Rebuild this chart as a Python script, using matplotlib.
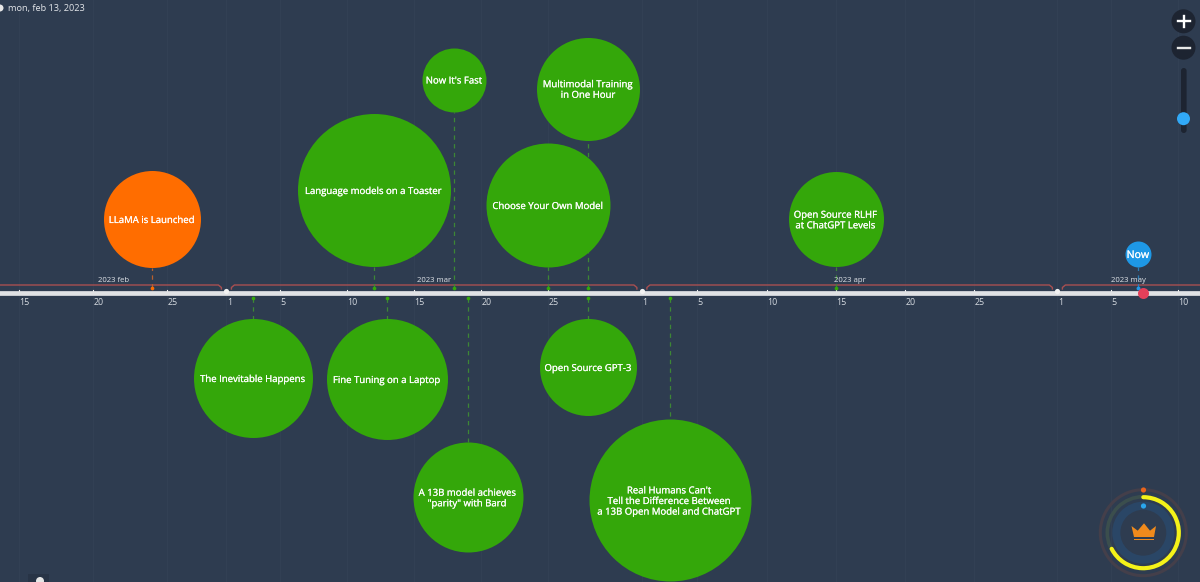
import pandas as pd
import numpy as np
import matplotlib
matplotlib.use('Agg')
import matplotlib.pyplot as plt
import matplotlib.patheffects as pe
from matplotlib.patches import Arc, Circle, Polygon, Rectangle, FancyBboxPatch

plt.rcParams['font.family'] = ['Open Sans', 'DejaVu Sans']

# events
labels = ['LLaMA is Launched', 'The Inevitable Happens', 'Language models on a Toaster',
          'Fine Tuning on a Laptop', "Now It's Fast", 'A 13B model achieves\n"parity" with Bard',
          'Choose Your Own Model', 'Multimodal Training\nin One Hour', 'Open Source GPT-3',
          "Real Humans Can't\nTell the Difference Between\na 13B Open Model and ChatGPT",
          'Open Source RLHF\nat ChatGPT Levels']
dates = ['2023-02-24', '2023-03-03', '2023-03-12', '2023-03-13', '2023-03-18', '2023-03-19',
         '2023-03-25', '2023-03-28', '2023-03-28', '2023-04-03', '2023-04-15']
# height of the bubble centre above (+) or below (-) the timeline, and bubble radius
heights = [74, -85, 103, -86, 213.5, -204, 88, 204.5, -74, -207, 74]
radii = [48.5, 59.5, 76.5, 60.5, 32, 55, 62, 51.5, 48.5, 81, 47.5]
kinds = ['orange', 'green', 'green', 'green', 'green', 'green', 'green', 'green', 'green', 'green', 'green']

months = ['2023-02-01', '2023-03-01', '2023-04-01', '2023-05-01']
month_labels = ['2023 feb', '2023 mar', '2023 apr', '2023 may']
tick_days = [1, 5, 10, 15, 20, 25]
now_date = '2023-05-07'
today_date = '2023-05-07 09:00'

colors = {'orange': '#ff6d00', 'green': '#34a70a'}
line_colors = {'orange': '#b8602e', 'green': '#3d8735'}
bg = '#2e3c50'
dpi = 100
W, H = 1200, 582
axis_y = 293
month_px = 415.5
mar_px = 226.4


def pos(date):
    # every month gets the same width on this timeline
    d = pd.Timestamp(date)
    frac = (d.day - 1 + d.hour / 24) / d.days_in_month
    return (d.year - 2023) * 12 + d.month - 3 + frac


def size(r):
    return (2 * r * 72 / dpi) ** 2


bold = [pe.withStroke(linewidth=0.12, foreground='white')]

fig = plt.figure(figsize=(W / dpi, H / dpi), dpi=dpi, facecolor=bg)
ax = fig.add_axes([0, 0, 1, 1])
ax.set_facecolor(bg)
ax.set_xlim(-mar_px / month_px, (W - mar_px) / month_px)
ax.set_ylim(axis_y - H, axis_y)
ax.axis('off')
xmin, xmax = ax.get_xlim()

# faint grid + ticks, only what is on screen
for m in months:
    start = pd.Timestamp(m)
    for dy in tick_days:
        x = pos(start + pd.Timedelta(days=dy - 1))
        if x < xmin or x > xmax - 0.02:
            continue
        ax.plot([x, x], [axis_y - H, axis_y], color='#ffffff', alpha=0.022, lw=1, zorder=1)
        ax.plot([x, x], [0, 3], color='#f2f2f2', lw=0.8, zorder=3)
        ax.annotate(str(dy), (x, -9.5), xytext=(0.3, 0), textcoords='offset points', color='#d5dae0',
                    fontsize=6.4, ha='left', va='center', zorder=5)

# the timeline itself
ax.plot([-1, 3], [0, 0], color='#e0e2e5', lw=3.4, solid_capstyle='butt', zorder=3)
for m in months[1:]:
    ax.scatter(pos(m), 2, s=14, color='#f2f2f2', linewidths=0, zorder=4)

# month brackets, label sits in the middle of the part on screen
for m, lab in zip(months, month_labels):
    x0 = pos(m)
    x1 = x0 + 1
    gap = 5 / month_px
    c = 3 / month_px
    ax.plot([x0 + gap, x0 + gap, x0 + gap + c, x1 - gap - c, x1 - gap, x1 - gap],
            [4, 5.5, 8, 8, 5.5, 4], color='#a84f50', lw=1, zorder=2)
    mid = (max(x0, xmin) + min(x1, xmax)) / 2
    ax.text(mid, 12, lab, color='#dfe3e8', fontsize=5.6, ha='center', va='center', zorder=5)

# bubbles
for lab, dt, h, r, k in zip(labels, dates, heights, radii, kinds):
    x = pos(dt)
    sgn = np.sign(h)
    ax.plot([x, x], [sgn * 5, h - sgn * r], color=line_colors[k], lw=0.9, ls=(0, (3.5, 3.5)), zorder=2)
    ax.scatter(x, sgn * 5, s=7, color=colors[k], linewidths=0, zorder=4)
    ax.scatter(x, h, s=size(r), color=colors[k], linewidths=0, zorder=3)
    ax.text(x, h - 1.5, lab, color='white', fontsize=6.9, ha='center', va='center', linespacing=0.95,
            zorder=6, path_effects=bold)

# now marker
nx = pos(now_date)
ax.plot([nx, nx], [5, 26], color='#2b7fb8', lw=0.9, ls=(0, (3.5, 3.5)), zorder=2)
ax.scatter(nx, 5, s=8, color='#2299e8', linewidths=0, zorder=4)
ax.scatter(nx, 39, s=size(13), color='#1e98e6', linewidths=0, zorder=3)
ax.text(nx, 37.5, 'Now', color='white', fontsize=7.6, ha='center', va='center', zorder=6, path_effects=bold)
ax.scatter(pos(today_date), 0, s=size(5.5), color='#e4405a', linewidths=0, zorder=5)

# screen furniture in pixel space
ui = fig.add_axes([0, 0, 1, 1])
ui.patch.set_alpha(0)
ui.set_xlim(0, W)
ui.set_ylim(H, 0)
ui.axis('off')

ui.add_patch(Circle((0, 8), 3.5, color='#e6e6e6', lw=0))
ui.text(8, 8.5, 'mon, feb 13, 2023', color='#e3e6ea', fontsize=6.6, va='center')

# zoom controls
ctrl = '#1d2431'
ui.add_patch(Circle((1183.5, 21.3), 12, color=ctrl, lw=0))
ui.add_patch(Circle((1183.5, 47.7), 12, color=ctrl, lw=0))
ui.plot([1178, 1189.5], [21.3, 21.3], color='white', lw=1.7)
ui.plot([1183.7, 1183.7], [15.5, 27], color='white', lw=1.7)
ui.plot([1178, 1189.5], [47.7, 47.7], color='#e8e8e8', lw=1.7)
ui.add_patch(FancyBboxPatch((1181, 68), 5.6, 65, boxstyle='round,pad=0,rounding_size=2.8', color=ctrl, lw=0))
ui.add_patch(Circle((1183.5, 118.7), 6.5, color='#31a9f7', lw=0))

# gauge
cx, cy = 1143.3, 532.7
ui.add_patch(Circle((cx, cy), 43, fill=False, ec='#443f4a', lw=2.2))
ui.add_patch(Circle((cx, cy), 36, fill=False, ec='#3b4e4d', lw=2.6))
ui.add_patch(Circle((cx, cy), 27, fill=False, ec='#2a4666', lw=5.8))
# y axis is flipped here, so arc angles run clockwise on screen
ui.add_patch(Arc((cx, cy), 71, 71, theta1=-90, theta2=153, color='#f4f219', lw=3, capstyle='round'))
ui.add_patch(Circle((1143.5, 490), 2.6, color='#e8641c', lw=0))
ui.add_patch(Circle((1143.5, 506), 2.6, color='#2aa6ee', lw=0))
crown = [(1131.5, 526), (1137.7, 530.7), (1144, 523.3), (1150, 530.7), (1156, 526), (1154, 537), (1134, 537)]
ui.add_patch(Polygon(crown, closed=True, color='#f08a1c', lw=0))
ui.add_patch(Rectangle((1134, 538.6), 20, 1.6, color='#f08a1c', lw=0))

# bottom left button
ui.add_patch(Rectangle((28, 574), 21, 8, color='#283446', lw=0))
ui.add_patch(Circle((40, 581), 4, color='#e6e6e6', lw=0))

fig.savefig('out.png', dpi=dpi, facecolor=bg)
